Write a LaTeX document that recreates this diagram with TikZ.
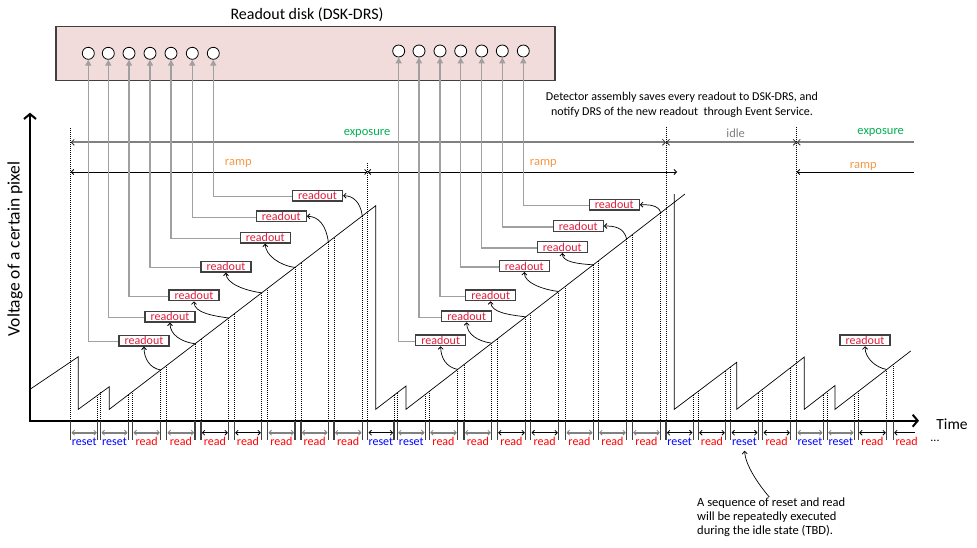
\documentclass[tikz,border=0pt]{standalone}
\usepackage{fontspec}
\setmainfont{Carlito}
\usetikzlibrary{arrows.meta}
\definecolor{diskfill}{RGB}{242,220,219}
\definecolor{edge}{RGB}{64,64,64}
\definecolor{lgray}{RGB}{160,160,160}
\definecolor{mgray}{RGB}{128,128,128}
\definecolor{expgreen}{RGB}{0,176,80}
\definecolor{ramporange}{RGB}{247,150,70}
\definecolor{idlegray}{RGB}{128,128,128}
\definecolor{rdred}{RGB}{225,30,60}
\definecolor{readred}{RGB}{255,0,0}
\definecolor{resetblue}{RGB}{0,0,255}
\begin{document}
\begin{tikzpicture}[x=1pt,y=-1pt,
  font=\fontsize{12}{14}\selectfont,
  >={Straight Barb[length=2.5pt,width=5pt,line width=0.8pt]},
  disk/.style={draw=edge,line width=1.3pt,fill=diskfill},
  cell/.style={circle,draw=black,line width=0.8pt,fill=white,minimum size=12pt,inner sep=0pt},
  rbox/.style={draw=edge,line width=1.2pt,fill=white,minimum width=50pt,minimum height=10.7pt,inner sep=0pt,text=rdred,font=\fontsize{12}{12}\selectfont},
  save/.style={draw=lgray,line width=1.4pt,-{Triangle[length=6pt,width=6pt]}},
  wave/.style={draw=black,line width=0.7pt},
  dots/.style={draw=black,line width=0.7pt,dash pattern=on 1pt off 1pt},
  rdarrow/.style={draw=black,line width=0.7pt,->},
  tickmark/.style={draw=edge,line width=1.4pt},
  slotg/.style={draw=mgray,line width=1.8pt},
  slotk/.style={draw=black,line width=0.9pt},
  labreset/.style={anchor=base,inner sep=1pt,text=resetblue,font=\fontsize{12}{12}\selectfont},
  labread/.style={anchor=base,inner sep=1pt,text=readred,font=\fontsize{12}{12}\selectfont},
  expline/.style={draw=mgray,line width=2.2pt,>={Straight Barb[length=3pt,width=6pt,line width=0.8pt,color=black!80]}},
  rampline/.style={draw=black,line width=1pt},
  phase/.style={font=\fontsize{12.5}{13}\selectfont},
  axis/.style={draw=black,line width=2.2pt}
]
\useasboundingbox (0,0) rectangle (977,547);

% readout disk
\draw[disk] (56,26.7) rectangle (555,80.7);
\node[font=\fontsize{16}{18}\selectfont] (title) at (307,15) {Readout disk (DSK-DRS)};
\foreach \i/\x/\y in {1/88.3/53.3,2/108.3/53.3,3/129/53.3,4/150/53.3,5/171/53.3,6/192.3/53.3,7/213.3/53.3,
  8/398.7/51,9/419/51,10/440/51,11/460.7/51,12/481.7/51,13/502.3/51,14/523.3/51}
  \node[cell] (c\i) at (\x,\y) {};

% note
\node[align=center,font=\fontsize{12}{15}\selectfont] (note) at (682,104.5)
  {Detector assembly saves every readout to DSK-DRS, and\\notify DRS of the new readout~ through Event Service.};

% phase lines
\coordinate (e0) at (70.7,142.3);
\coordinate (e1) at (666,142.3);
\coordinate (e2) at (796.7,142.3);
\coordinate (e3) at (914,142.3);
\coordinate (r0) at (70.7,172);
\coordinate (r1) at (367.7,172);
\coordinate (r2) at (677,172);
\coordinate (r3) at (796.7,172);
\coordinate (r4) at (914,172);
\draw[expline,<->] (e0) -- (e1);
\draw[expline,<->] (e1) -- (e2);
\draw[expline,<-] (e2) -- (e3);
\draw[rampline,<->] (r0) -- (r1);
\draw[rampline,<->] (r1) -- (r2);
\draw[rampline,<-] (r3) -- (r4);
\node[phase,text=expgreen] (ex1) at (367,133) {exposure};
\node[phase,text=idlegray] (idle) at (735.7,132.7) {idle};
\node[phase,text=expgreen] (ex2) at (880.7,132.7) {exposure};
\node[phase,text=ramporange] (rp1) at (238.3,163) {ramp};
\node[phase,text=ramporange] (rp2) at (543.3,163) {ramp};
\node[phase,text=ramporange] (rp3) at (863.3,166) {ramp};

% full-height dotted lines
\draw[dots] (70.7,128) -- (70.7,420.7);
\draw[dots] (367.7,163) -- (367.7,420.7);
\draw[dots] (666,126.7) -- (666,420.7);
\draw[dots] (796.7,126.7) -- (796.7,420.7);

% dotted lines from waveform to axis
\foreach \x/\xo/\s in {97.7/78.3/0.76,100.7/78.3/0.76,
  128.3/109.3/0.7643,132.7/109.3/0.7643,160.7/109.3/0.7643,166.7/109.3/0.7643,195/109.3/0.7643,201/109.3/0.7643,
  228.7/109.3/0.7643,234.3/109.3/0.7643,261.7/109.3/0.7643,267.7/109.3/0.7643,295/109.3/0.7643,301/109.3/0.7643,
  328.3/109.3/0.7643,334/109.3/0.7643,362.3/109.3/0.7643,
  394/375.7/0.769,397.3/375.7/0.769,
  425.3/406/0.7717,429.3/406/0.7717,457.7/406/0.7717,464/406/0.7717,491.7/406/0.7717,497.3/406/0.7717,
  525.7/406/0.7717,530.7/406/0.7717,558.7/406/0.7717,565.7/406/0.7717,593.3/406/0.7717,598.3/406/0.7717,
  626.7/406/0.7717,632.3/406/0.7717,660.7/406/0.7717,
  693.3/674.3/0.753,698.3/674.3/0.753,725.7/674.3/0.753,730.7/674.3/0.753,
  758.3/736.7/0.774,762.7/736.7/0.774,790.7/736.7/0.774,
  823.3/804.3/0.775,827.3/804.3/0.775,
  854.3/835/0.77,858.3/835/0.77,886.7/835/0.77,893.3/835/0.77}
  \draw[dots] (\x,{409.3-\s*(\x-\xo)}) -- (\x,420.7);

% waveform
\draw[wave] (30,389.3) -- (78.3,356.7) -- (78.3,409.3) -- (109.3,386.7) -- (109.3,409.3)
  -- (375.7,205.7) -- (375.7,409.3) -- (406,386) -- (406,409.3) -- (685,194);
\draw[wave] (674.3,194) -- (674.3,409.3) -- (736.7,362.3) -- (736.7,409.3) -- (804.3,357)
  -- (804.3,409.3) -- (835,385.5) -- (835,409.3) -- (910.7,351);

% axes
\draw[axis,{Straight Barb[length=5pt,width=12pt,line width=2pt]}-{Straight Barb[length=5pt,width=12pt,line width=2pt]}]
  (30,112.7) -- (30,420.7) -- (919,420.7);
\node[font=\fontsize{15.5}{18}\selectfont] (tlabel) at (952,424) {Time};
\node[rotate=90,font=\fontsize{17.5}{20}\selectfont] (vlabel) at (15,249) {Voltage of a certain pixel};

% slots
\foreach \i/\a/\b/\lab/\col in {
  1/70.7/97.7/reset/g,2/100.7/128.3/reset/g,3/132.7/160.7/read/g,4/166.7/195/read/g,
  5/201/228.7/read/k,6/234.3/261.7/read/k,7/267.7/295/read/g,8/301/328.3/read/g,
  9/334/362.3/read/g,10/367.7/394/reset/k,11/397.3/425.3/reset/g,12/429.3/457.7/read/g,
  13/464/491.7/read/g,14/497.3/525.7/read/k,15/530.7/558.7/read/k,16/565.7/593.3/read/g,
  17/598.3/626.7/read/g,18/632.3/660.7/read/g,19/666/693.3/reset/k,20/698.3/725.7/read/k,
  21/730.7/758.3/reset/k,22/762.7/790.7/read/k,23/796.7/823.3/reset/g,24/827.3/854.3/reset/g,
  25/858.3/886.7/read/k}
{
  \draw[tickmark] (\a,420.7) -- (\a,440);
  \draw[tickmark] (\b,420.7) -- (\b,440);
  \draw[slot\col,<->] (\a+0.8,432.7) -- (\b-0.8,432.7);
  \node[lab\lab] (L\i) at ({(\a+\b)/2},445.5) {\lab};
}
\draw[tickmark] (893.3,420.7) -- (893.3,440);
\draw[slotk,<-] (894.1,432.7) -- (915,432.7);
\node[labread] (L26) at (906.7,445.5) {read};
\node (dots) at (935,441) {...};

% readout boxes
\foreach \i/\x/\y in {1/144/340.7,2/170/316.7,3/194/295.3,4/226/266.7,5/265.3/237.7,6/281.3/216.3,7/317.5/195.7,
  8/440.7/340.3,9/466.7/316.3,10/490.7/295.3,11/524.3/266,12/562.3/247,13/578.3/226,14/614.3/204.7,15/865/340.3}
  \node[rbox] (b\i) at (\x,\y) {readout};

% save arrows to disk
\foreach \i in {1,...,14}
  \draw[save] ([yshift=-1pt]b\i.west) -| (c\i.south);

% ramp sample points
\coordinate (q1) at (160.7,370.0);
\coordinate (q2) at (195,343.8);
\coordinate (q3) at (228.7,318.0);
\coordinate (q4) at (261.7,292.8);
\coordinate (q5) at (295,267.4);
\coordinate (q6) at (328.3,241.9);
\coordinate (q7) at (362.3,215.9);
\coordinate (q8) at (457.7,369.4);
\coordinate (q9) at (491.7,343.2);
\coordinate (q10) at (525.7,316.9);
\coordinate (q11) at (558.7,291.5);
\coordinate (q12) at (593.3,264.8);
\coordinate (q13) at (626.7,239.0);
\coordinate (q14) at (660.7,212.7);
\coordinate (q15) at (886.7,369.5);

\draw[rdarrow] (q1) .. controls +(-11,-2) and +(0,12) .. (b1.south);
\draw[rdarrow] (q2) .. controls +(-14,-2) and +(0,12) .. (b2.south);
\draw[rdarrow] (q3) .. controls +(-14,-2) and +(0,12) .. (b3.south);
\draw[rdarrow] (q4) .. controls +(-16,-2) and +(0,11) .. (b4.south);
\draw[rdarrow] (q5) .. controls +(-16,-2) and +(0,11) .. (b5.south);
\draw[rdarrow] (q6) .. controls +(-2,-16) and +(12,0) .. (b6.east);
\draw[rdarrow] (q7) .. controls +(-2,-14) and +(10,0) .. (b7.east);
\draw[rdarrow] (q8) .. controls +(-11,-2) and +(0,12) .. (b8.south);
\draw[rdarrow] (q9) .. controls +(-14,-2) and +(0,12) .. (b9.south);
\draw[rdarrow] (q10) .. controls +(-14,-2) and +(0,12) .. (b10.south);
\draw[rdarrow] (q11) .. controls +(-16,-2) and +(0,11) .. (b11.south);
\draw[rdarrow] (q12) .. controls +(-16,-1) and +(0,9) .. (b12.south);
\draw[rdarrow] (q13) .. controls +(-3,-12) and +(10,0) .. (b13.east);
\draw[rdarrow] (q14) .. controls +(-2,-8) and +(8,0) .. (b14.east);
\draw[rdarrow] (q15) .. controls +(-11,-2) and +(0,12) .. (b15.south);

% annotation
\node[anchor=north west,align=left,inner sep=0pt,font=\fontsize{12.5}{14}\selectfont] (ann) at (697,498)
  {A sequence of reset and read\\will be repeatedly executed\\during the idle state (TBD).};
\draw[rdarrow] ([xshift=72.3pt,yshift=1pt]ann.north west) .. controls +(-12,-14) and +(1,14) .. ([yshift=-4pt]L21.south);
\end{tikzpicture}
\end{document}
